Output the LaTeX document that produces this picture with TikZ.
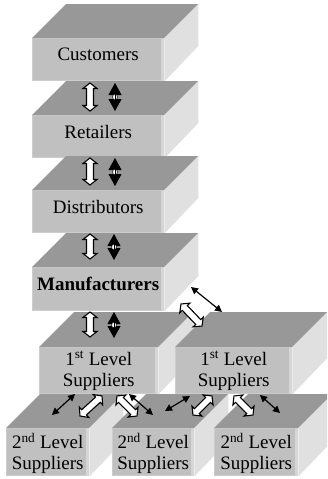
\documentclass[tikz,border=0pt]{standalone}
\usepackage{fontspec}
\setmainfont{Liberation Serif}
\usetikzlibrary{arrows.meta,calc}

\definecolor{boxtop}{RGB}{152,152,152}
\definecolor{boxfront}{RGB}{192,192,192}
\definecolor{boxrim}{RGB}{205,205,205}
\definecolor{boxrimlight}{RGB}{214,214,214}
\definecolor{boxside}{RGB}{224,224,224}

\tikzset{
  frontface/.style={fill=boxfront, draw=boxrim, line width=1.4pt, inner sep=0pt},
  slablabel/.style={inner sep=0pt, align=center, font=\fontsize{19}{21}\selectfont},
  fatarrow/.style={draw=black, fill=white, line width=1.1pt, line join=miter},
  thinarrow/.style={line width=1.2pt,
    {Triangle[length=7pt,width=7pt]}-{Triangle[length=7pt,width=7pt]}},
  spindle/.style={line width=0.8pt,
    {Triangle[length=12pt,width=13pt]}-{Triangle[length=12pt,width=13pt]}},
}

% a grey slab: name, left x, top y of front face, width, height, depth,
% label, label lift above the middle of the front face
\newcommand\slab[8]{%
  \node[frontface, anchor=north west, minimum width=#4pt, minimum height=#5pt] (#1) at (#2,#3) {};
  \fill[boxrimlight] ($(#1.north east)+(-3,0)$) rectangle (#1.south east);
  \fill[boxtop] (#1.north west) -- ++(#6,-#6) -- ($(#1.north east)+(#6,-#6)$) -- (#1.north east) -- cycle;
  \fill[boxside] (#1.north east) -- ++(#6,-#6) -- ++(0,#5) -- (#1.south east) -- cycle;
  \node[slablabel] (#1-label) at ($(#1.center)+(0,-#8)$) {#7};
}

% a hollow block arrow with a head at both ends, from #1 to #2
% (half shaft width 3.5pt, half head width 7pt, head length 5.5pt)
\newcommand\fatlink[2]{%
  \coordinate (fa) at ($(#1)!5.5pt!(#2)$);
  \coordinate (fb) at ($(#2)!5.5pt!(#1)$);
  \draw[fatarrow] (#1)
    -- ($(fa)!7pt!90:(#2)$) -- ($(fa)!3.5pt!90:(#2)$)
    -- ($(fb)!3.5pt!-90:(#1)$) -- ($(fb)!7pt!-90:(#1)$)
    -- (#2)
    -- ($(fb)!7pt!90:(#1)$) -- ($(fb)!3.5pt!90:(#1)$)
    -- ($(fa)!3.5pt!-90:(#2)$) -- ($(fa)!7pt!-90:(#2)$)
    -- cycle;
}

% a vertical black spindle arrow with its small eye in the middle
\newcommand\spindlelink[2]{%
  \draw[spindle] (#1) -- (#2);
  \filldraw[fill=white, draw=black, line width=0.6pt] ($(#1)!0.5!(#2)$) ellipse (2.4pt and 3pt);
  \draw[line width=0.6pt] ($(#1)!0.5!(#2)+(0,-3)$) -- ($(#1)!0.5!(#2)+(0,3)$);
}

\begin{document}
\begin{tikzpicture}[x=1pt,y=-1pt]
  \useasboundingbox (0,0) rectangle (327,479);
  \clip (0,0) rectangle (327,479);

  % the supply chain stack
  \slab{cust}{32}{38}{131}{42}{34}{Customers}{5}
  \slab{ret}{32}{115}{131}{42}{34}{Retailers}{5}
  \slab{dist}{32}{190}{131}{42}{34}{Distributors}{5}
  \slab{manu}{32}{267}{131}{43}{34}{\textbf{Manufacturers}}{5}

  % first tier suppliers
  \slab{supA}{39}{347}{118}{46}{35}{1\textsuperscript{st} Level\\Suppliers}{0}
  \slab{supB}{175}{347}{116}{46}{35}{1\textsuperscript{st} Level\\Suppliers}{0}

  % second tier suppliers
  \slab{subA}{6}{428}{82}{47}{34}{2\textsuperscript{nd} Level\\Suppliers}{-1}
  \slab{subB}{112}{428}{81}{47}{34}{2\textsuperscript{nd} Level\\Suppliers}{-1}
  \slab{subC}{214}{428}{83}{47}{34}{2\textsuperscript{nd} Level\\Suppliers}{-1}

  % link end points
  \coordinate (w1a) at (90,83);   \coordinate (w1b) at (90,111);
  \coordinate (k1a) at (115,83);  \coordinate (k1b) at (115,111);
  \coordinate (w2a) at (90,158);  \coordinate (w2b) at (90,185);
  \coordinate (k2a) at (115,158); \coordinate (k2b) at (115,186);
  \coordinate (w3a) at (90,234);  \coordinate (w3b) at (90,259);
  \coordinate (k3a) at (114,234); \coordinate (k3b) at (114,260);
  \coordinate (w4a) at (90,312);  \coordinate (w4b) at (90,337);
  \coordinate (k4a) at (114,312); \coordinate (k4b) at (114,338);

  \coordinate (mwa) at (181,304); \coordinate (mwb) at (202,326);
  \coordinate (mka) at (191,287); \coordinate (mkb) at (222,312);

  \coordinate (b1a) at (75,394);  \coordinate (b1b) at (52,415);
  \coordinate (b2a) at (102,396); \coordinate (b2b) at (80,416);
  \coordinate (b3a) at (117,396); \coordinate (b3b) at (137,416);
  \coordinate (b4a) at (129,394); \coordinate (b4b) at (153,415);
  \coordinate (b5a) at (190,396); \coordinate (b5b) at (165,411);
  \coordinate (b6a) at (212,396); \coordinate (b6b) at (193,415);
  \coordinate (b7a) at (234,396); \coordinate (b7b) at (253,415);
  \coordinate (b8a) at (260,395); \coordinate (b8b) at (280,413);

  % links down the stack
  \fatlink{w1a}{w1b}
  \spindlelink{k1a}{k1b}
  \fatlink{w2a}{w2b}
  \spindlelink{k2a}{k2b}
  \fatlink{w3a}{w3b}
  \spindlelink{k3a}{k3b}
  \fatlink{w4a}{w4b}
  \spindlelink{k4a}{k4b}

  % manufacturers to the second first-tier supplier
  \fatlink{mwa}{mwb}
  \draw[thinarrow] (mka) -- (mkb);

  % first tier to second tier
  \draw[thinarrow] (b1a) -- (b1b);
  \fatlink{b2a}{b2b}
  \fatlink{b3a}{b3b}
  \draw[thinarrow] (b4a) -- (b4b);
  \draw[thinarrow] (b5a) -- (b5b);
  \fatlink{b6a}{b6b}
  \fatlink{b7a}{b7b}
  \draw[thinarrow] (b8a) -- (b8b);
\end{tikzpicture}
\end{document}
